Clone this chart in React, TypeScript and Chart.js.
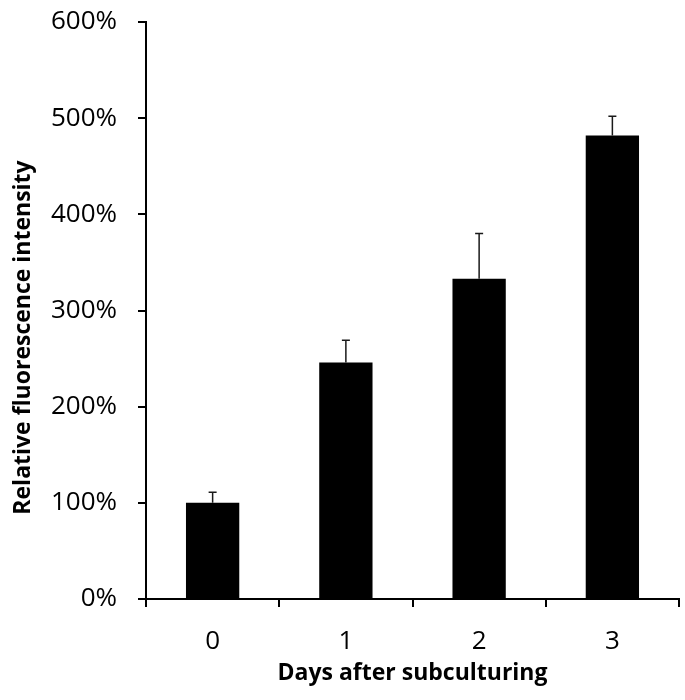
import React, { useEffect, useRef } from "react";
import { Chart, registerables } from "chart.js";

Chart.register(...registerables);

const categories = ["0", "1", "2", "3"];
const values = [100, 246, 333, 482];
const errors = [11, 23, 47, 20];
const yTicks = [0, 100, 200, 300, 400, 500, 600];
const yTitle = "Relative fluorescence intensity";
const xTitle = "Days after subculturing";

const FONT = "'Open Sans', 'Noto Sans', sans-serif";

const errorBarPlugin = {
  id: "errorBars",
  afterDatasetsDraw(chart: any) {
    const ctx = chart.ctx;
    const meta = chart.getDatasetMeta(0);
    const yScale = chart.scales.y;
    ctx.save();
    ctx.strokeStyle = "#1a1a1a";
    ctx.lineWidth = 1.5;
    meta.data.forEach((bar: any, i: number) => {
      const x = bar.x;
      const yBase = yScale.getPixelForValue(values[i]);
      const yTop = yScale.getPixelForValue(values[i] + errors[i]);
      ctx.beginPath();
      ctx.moveTo(x, yBase);
      ctx.lineTo(x, yTop);
      ctx.moveTo(x - 4, yTop);
      ctx.lineTo(x + 4, yTop);
      ctx.stroke();
    });
    ctx.restore();
  },
};

const yTitlePlugin = {
  id: "yTitle",
  afterDraw(chart: any) {
    const ctx = chart.ctx;
    const area = chart.chartArea;
    ctx.save();
    ctx.translate(23, (area.top + area.bottom) / 2 + 27);
    ctx.rotate(-Math.PI / 2);
    ctx.textAlign = "center";
    ctx.textBaseline = "middle";
    ctx.fillStyle = "#000000";
    ctx.font = `bold 23px ${FONT}`;
    ctx.fillText(yTitle, 0, 0);
    ctx.restore();
  },
};

export default function App() {
  const ref = useRef<HTMLCanvasElement | null>(null);
  useEffect(() => {
    document.body.style.margin = "0";
    if (!ref.current) return;
    const chart = new Chart(ref.current, {
      type: "bar",
      data: {
        labels: categories,
        datasets: [
          {
            data: values,
            backgroundColor: "#000000",
            borderColor: "#000000",
            borderWidth: 0,
            barPercentage: 0.4,
            categoryPercentage: 1.0,
          },
        ],
      },
      options: {
        animation: false,
        responsive: false,
        devicePixelRatio: 1,
        layout: { padding: { top: 22, right: 6, left: 0, bottom: 0 } },
        plugins: { legend: { display: false }, tooltip: { enabled: false } },
        scales: {
          x: {
            offset: true,
            grid: {
              display: true,
              offset: true,
              drawOnChartArea: false,
              drawTicks: true,
              tickLength: 8,
              color: "#000000",
              lineWidth: 2,
            },
            border: { display: true, color: "#000000", width: 2 },
            ticks: {
              color: "#000000",
              font: { family: FONT, size: 26 },
              padding: 19,
            },
            title: {
              display: true,
              text: xTitle,
              color: "#000000",
              font: { family: FONT, size: 23, weight: "bold" },
              padding: { top: 0, bottom: 13 },
            },
            afterFit: (scale: any) => {
              scale.height = 101;
              scale.paddingLeft = 0;
              scale.paddingRight = 0;
            },
          },
          y: {
            min: 0,
            max: 600,
            afterBuildTicks: (scale: any) => {
              scale.ticks = yTicks.map((v) => ({ value: v }));
            },
            grid: {
              display: true,
              drawOnChartArea: false,
              drawTicks: true,
              tickLength: 8,
              color: "#000000",
              lineWidth: 2,
            },
            border: { display: true, color: "#000000", width: 2 },
            ticks: {
              color: "#000000",
              font: { family: FONT, size: 26 },
              padding: 21,
              callback: (v: any) => v + "%",
            },
            title: { display: false },
            afterFit: (scale: any) => {
              scale.width = 146;
              scale.paddingTop = 0;
              scale.paddingBottom = 0;
            },
          },
        },
      },
      plugins: [errorBarPlugin, yTitlePlugin],
    });
    return () => chart.destroy();
  }, []);
  return (
    <div style={{ width: 685, height: 700, background: "#fff" }}>
      <canvas ref={ref} width={685} height={700} style={{ display: "block" }} />
    </div>
  );
}
